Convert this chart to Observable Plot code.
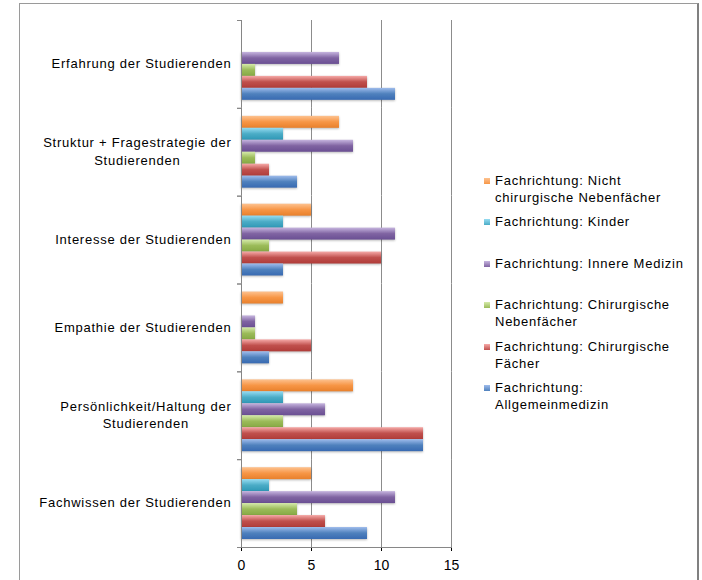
<!DOCTYPE html>
<html>
<head>
<meta charset="utf-8">
<script src="https://cdn.jsdelivr.net/npm/d3@7"></script>
<script src="https://cdn.jsdelivr.net/npm/@observablehq/plot@0.6"></script>
<style>
html, body { margin: 0; padding: 0; background: #fff; }
#wrap { position: relative; width: 702px; height: 580px; overflow: hidden; font-family: "Liberation Sans", Arial, sans-serif; background: #fff; }
#chart { position: absolute; left: 0; top: 0; }
#border { position: absolute; left: 19px; top: 3px; width: 677px; height: 640px; border-top: 1.5px solid #9a9a9a; border-left: 1.5px solid #9a9a9a; border-right: 2px solid #808080; pointer-events: none; }
#legend { position: absolute; left: 484px; top: 172px; font-size: 13px; letter-spacing: 0.75px; color: #000; }
.item { position: relative; height: 41.4px; }
.sw { position: absolute; left: 0; top: 6px; width: 6px; height: 6px; }
.lab { margin-left: 11px; line-height: 17px; white-space: pre-line; }
g[aria-label="fy-axis tick label"] text { letter-spacing: 0.75px; }
g[aria-label="x-axis tick label"] { font-size: 14px; }
g[aria-label="x-axis tick"] { stroke: #868686; }
g[aria-label="bar"] rect { filter: drop-shadow(0.6px 1.6px 0.8px rgba(0,0,0,0.28)); }
</style>
</head>
<body>
<div id="wrap">
  <div id="chart"></div>
  <div id="legend"></div>
  <div id="border"></div>
</div>
<script>
// ---- data ----
const categories = [
  "Erfahrung der Studierenden",
  "Struktur + Fragestrategie der Studierenden",
  "Interesse der Studierenden",
  "Empathie der Studierenden",
  "Persönlichkeit/Haltung der Studierenden",
  "Fachwissen der Studierenden"
];
const categoryLabels = [
  "Erfahrung der Studierenden",
  "Struktur + Fragestrategie der\nStudierenden",
  "Interesse der Studierenden",
  "Empathie der Studierenden",
  "Persönlichkeit/Haltung der\nStudierenden",
  "Fachwissen der Studierenden"
];
const series = [
  "Fachrichtung: Nicht chirurgische Nebenfächer",
  "Fachrichtung: Kinder",
  "Fachrichtung: Innere Medizin",
  "Fachrichtung: Chirurgische Nebenfächer",
  "Fachrichtung: Chirurgische Fächer",
  "Fachrichtung: Allgemeinmedizin"
];
const seriesLabels = [
  "Fachrichtung: Nicht\nchirurgische Nebenfächer",
  "Fachrichtung: Kinder",
  "Fachrichtung: Innere Medizin",
  "Fachrichtung: Chirurgische\nNebenfächer",
  "Fachrichtung: Chirurgische\nFächer",
  "Fachrichtung:\nAllgemeinmedizin"
];
const nichtChirurgischeNebenfaecher = [0, 7, 5, 3, 8, 5];
const kinder = [0, 3, 3, 0, 3, 2];
const innereMedizin = [7, 8, 11, 1, 6, 11];
const chirurgischeNebenfaecher = [1, 1, 2, 1, 3, 4];
const chirurgischeFaecher = [9, 2, 10, 5, 13, 6];
const allgemeinmedizin = [11, 4, 3, 2, 13, 9];
const xTicks = [0, 5, 10, 15];

const baseColors = ["#F79646", "#4BACC6", "#8064A2", "#9BBB59", "#C0504D", "#4F81BD"];
const lightColors = ["#FDC290", "#96DCF2", "#C6B5DF", "#D5EAAA", "#F6AAA8", "#9FBCEC"];
const darkColors  = ["#E8802C", "#2F98B6", "#6A4F93", "#86A944", "#B03C39", "#386AB2"];

// ---- table ----
const seriesValues = [nichtChirurgischeNebenfaecher, kinder, innereMedizin, chirurgischeNebenfaecher, chirurgischeFaecher, allgemeinmedizin];
const data = [];
categories.forEach((c, ci) => {
  series.forEach((s, si) => data.push({category: c, series: s, value: seriesValues[si][ci]}));
});

const lastCat = categories[categories.length - 1];
const plotW = 702 - 241 - 251;

const chart = Plot.plot({
  width: 702,
  height: 580,
  marginLeft: 241,
  marginRight: 251,
  marginTop: 20,
  marginBottom: 33,
  style: {fontFamily: "'Liberation Sans', Arial, sans-serif", fontSize: "13px", color: "#000", background: "transparent", overflow: "visible"},
  x: {domain: [0, 15], ticks: xTicks, tickSize: 4, tickPadding: 9, label: null},
  y: {domain: series, paddingInner: 0, paddingOuter: 0.67, round: false, axis: null},
  fy: {domain: categories, padding: 0, paddingInner: 0, paddingOuter: 0, round: false, label: null},
  color: {domain: series, range: series.map((_, i) => `url(#grad${i})`)},
  marks: [
    Plot.ruleX(xTicks.slice(1), {stroke: "#8c8c8c", strokeWidth: 1}),
    Plot.barX(data, {fy: "category", y: "series", x: "value", fill: "series"}),
    Plot.ruleX([0], {stroke: "#868686"}),
    Plot.frame({anchor: "top", stroke: "#868686", insetRight: plotW - 4, dx: -4}),
    Plot.frame({anchor: "bottom", stroke: "#868686", insetRight: plotW - 4, dx: -4}),
    Plot.frame({anchor: "bottom", stroke: "#868686", fy: () => lastCat}),
    Plot.axisFy({anchor: "left", tickSize: 0, tickPadding: 10, lineHeight: 1.35, dy: -2, label: null,
                 tickFormat: d => categoryLabels[categories.indexOf(d)]})
  ]
});

// gradients for the bars
const svgNS = "http://www.w3.org/2000/svg";
const defs = document.createElementNS(svgNS, "defs");
defs.innerHTML = baseColors.map((c, i) =>
  `<linearGradient id="grad${i}" x1="0" y1="0" x2="0" y2="1">
     <stop offset="0" stop-color="${lightColors[i]}"/>
     <stop offset="0.5" stop-color="${c}"/>
     <stop offset="1" stop-color="${darkColors[i]}"/>
   </linearGradient>`).join("");
chart.prepend(defs);

document.getElementById("chart").append(chart);

// center multi-line category labels within their block, block right-aligned next to the axis
chart.querySelectorAll('g[aria-label="fy-axis tick label"] text').forEach(t => {
  const w = t.getBBox().width;
  t.style.textAnchor = "middle";
  const tr = t.getAttribute("transform") || "";
  t.setAttribute("transform", `${tr} translate(${-w / 2},0)`);
});

// legend
const legend = document.getElementById("legend");
series.forEach((s, i) => {
  const item = document.createElement("div");
  item.className = "item";
  const sw = document.createElement("div");
  sw.className = "sw";
  sw.style.background = `linear-gradient(${lightColors[i]}, ${baseColors[i]})`;
  const lab = document.createElement("div");
  lab.className = "lab";
  lab.textContent = seriesLabels[i];
  item.append(sw, lab);
  legend.append(item);
});
</script>
</body>
</html>
